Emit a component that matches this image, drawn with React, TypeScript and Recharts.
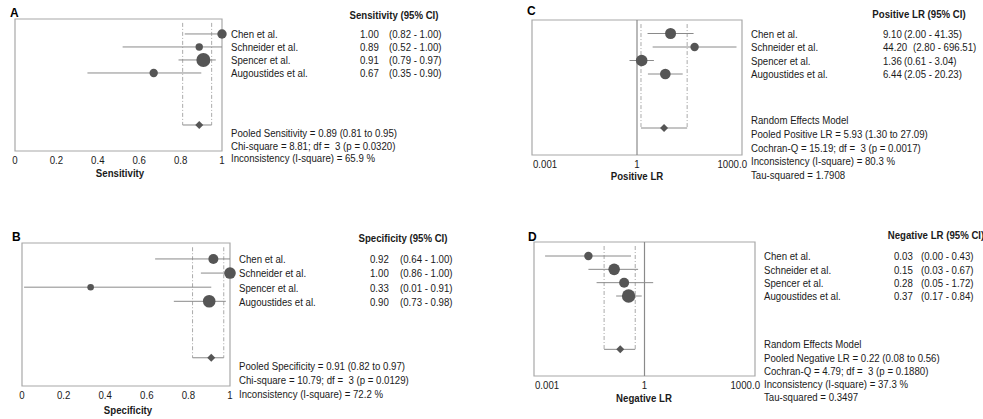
import { ScatterChart, Scatter, XAxis, YAxis, ErrorBar, ReferenceLine, ReferenceArea } from "recharts";

const studies = ["Chen et al.", "Schneider et al.", "Spencer et al.", "Augoustides et al."];
const rows = [1, 2, 3, 4];
const pooledRow = 8;

// A - sensitivity
const sensEst = [1.0, 0.89, 0.91, 0.67];
const sensLo = [0.82, 0.52, 0.79, 0.35];
const sensHi = [1.0, 1.0, 0.97, 0.9];
const sensSize = [4.7, 3.7, 7, 4.2];
const sensPooled = [0.89, 0.81, 0.95];
const sensStats = [
  "Pooled Sensitivity = 0.89 (0.81 to 0.95)",
  "Chi-square = 8.81; df =  3 (p = 0.0320)",
  "Inconsistency (I-square) = 65.9 %",
];

// B - specificity
const specEst = [0.92, 1.0, 0.33, 0.9];
const specLo = [0.64, 0.86, 0.01, 0.73];
const specHi = [1.0, 1.0, 0.91, 0.98];
const specSize = [5, 5.8, 3.3, 6.3];
const specPooled = [0.91, 0.82, 0.97];
const specStats = [
  "Pooled Specificity = 0.91 (0.82 to 0.97)",
  "Chi-square = 10.79; df =  3 (p = 0.0129)",
  "Inconsistency (I-square) = 72.2 %",
];

// C - positive LR
const plrEst = [9.1, 44.2, 1.36, 6.44];
const plrLo = [2.0, 2.8, 0.61, 2.05];
const plrHi = [41.35, 696.51, 3.04, 20.23];
const plrSize = [5.5, 4.2, 5.8, 5.3];
const plrPooled = [5.93, 1.3, 27.09];
const plrStats = [
  "Random Effects Model",
  "Pooled Positive LR = 5.93 (1.30 to 27.09)",
  "Cochran-Q = 15.19; df =  3 (p = 0.0017)",
  "Inconsistency (I-square) = 80.3 %",
  "Tau-squared = 1.7908",
];

// D - negative LR
const nlrEst = [0.03, 0.15, 0.28, 0.37];
const nlrLo = [0.002, 0.03, 0.05, 0.17];
const nlrHi = [0.43, 0.67, 1.72, 0.84];
const nlrSize = [4.2, 5.8, 5, 6.7];
const nlrPooled = [0.22, 0.08, 0.56];
const nlrStats = [
  "Random Effects Model",
  "Pooled Negative LR = 0.22 (0.08 to 0.56)",
  "Cochran-Q = 4.79; df =  3 (p = 0.1880)",
  "Inconsistency (I-square) = 37.3 %",
  "Tau-squared = 0.3497",
];

const linearTicks = [0, 0.2, 0.4, 0.6, 0.8, 1];
const logTicks = [0.001, 1, 1000];

// no narrow fonts installed, so squeeze Liberation Sans horizontally
const FONT = "'Liberation Sans', Arial, sans-serif";
const SQUEEZE = 0.84;
const TXT = "#1a1a1a";
const DOT = "#555";
const LINE = "#8a8a8a";
const BOX = "#a8a8a8";

function T({ x, y, children, anchor = "start", bold = false, size = 11.5 }: any) {
  return (
    <text
      transform={`translate(${x} ${y}) scale(${SQUEEZE} 1)`}
      textAnchor={anchor}
      dominantBaseline="central"
      fontFamily={FONT}
      fontSize={size}
      fontWeight={bold ? "bold" : "normal"}
      fill={TXT}
      style={{ whiteSpace: "pre" }}
    >
      {children}
    </text>
  );
}

function buildRows(est: number[], lo: number[], hi: number[], size: number[]) {
  return studies.map((name, i) => ({
    name,
    row: rows[i],
    est: est[i],
    size: size[i],
    err: [est[i] - lo[i], hi[i] - est[i]],
  }));
}

type PanelProps = {
  left: number;
  top: number;
  width: number;
  height: number;
  plotLeft: number;
  plotTop: number;
  plotW: number;
  plotH: number;
  yMin: number;
  est: number[];
  lo: number[];
  hi: number[];
  size: number[];
  pooled: number[];
  log: boolean;
  cols: number[];
};

function Panel(p: PanelProps) {
  const data = buildRows(p.est, p.lo, p.hi, p.size);
  const [pv, plo, phi] = p.pooled;
  const pooledData = [{ row: pooledRow, est: pv, err: [pv - plo, phi - pv] }];
  const domain = p.log ? [0.001, 1000] : [0, 1];
  const ticks = p.log ? logTicks : linearTicks;
  const axisW = p.width - p.plotLeft - p.plotW;
  const bottom = p.height - p.plotTop - p.plotH;

  const xTick = (t: any) => {
    const v = t.payload.value;
    let anchor = "middle";
    let label = String(v);
    let x = t.x;
    if (p.log) {
      if (v === 1000) {
        label = "1000.0";
        anchor = "end";
        x = t.x + 5;
      } else if (v === 0.001) {
        anchor = "start";
        x = t.x + 1;
      }
    }
    return <T x={x} y={t.y + 8.5} anchor={anchor}>{label}</T>;
  };

  const yTick = (t: any) => {
    const i = rows.indexOf(t.payload.value);
    if (i < 0) return <g />;
    const val = p.est[i].toFixed(2);
    const ci = `(${p.lo[i].toFixed(2)} - ${p.hi[i].toFixed(2)})`;
    const ciShift = val.length > 4 ? 9 : 0;
    return (
      <g>
        <T x={t.x + p.cols[0]} y={t.y}>{studies[i]}</T>
        <T x={t.x + p.cols[1]} y={t.y}>{val}</T>
        <T x={t.x + p.cols[2] + ciShift} y={t.y}>{ci}</T>
      </g>
    );
  };

  return (
    <div style={{ position: "absolute", left: p.left, top: p.top }}>
      <ScatterChart
        width={p.width}
        height={p.height}
        margin={{ top: p.plotTop, left: p.plotLeft, right: 0, bottom: bottom - 30 }}
      >
        <XAxis
          type="number"
          dataKey="est"
          domain={domain}
          scale={p.log ? "log" : "auto"}
          ticks={ticks}
          interval={0}
          axisLine={false}
          tickLine={false}
          tickSize={0}
          tickMargin={0}
          height={30}
          tick={xTick}
        />
        <YAxis
          type="number"
          dataKey="row"
          domain={[p.yMin, 10]}
          reversed
          orientation="right"
          width={axisW}
          ticks={rows}
          interval={0}
          axisLine={false}
          tickLine={false}
          tickSize={0}
          tickMargin={0}
          tick={yTick}
        />
        <ReferenceArea x1={domain[0]} x2={domain[1]} y1={p.yMin} y2={10} fill="none" stroke={BOX} strokeWidth={1.2} />
        {p.log && <ReferenceLine x={1} stroke={LINE} strokeWidth={1.2} />}
        <ReferenceLine segment={[{ x: plo, y: p.yMin + 0.3 }, { x: plo, y: pooledRow }]} stroke="#aaa" strokeDasharray="4 2 1 2" />
        <ReferenceLine segment={[{ x: phi, y: p.yMin + 0.3 }, { x: phi, y: pooledRow }]} stroke="#aaa" strokeDasharray="4 2 1 2" />
        <Scatter
          data={data}
          isAnimationActive={false}
          shape={(s: any) => <circle cx={s.cx} cy={s.cy} r={s.payload.size} fill={DOT} />}
        >
          <ErrorBar dataKey="err" direction="x" width={0} stroke={LINE} strokeWidth={1} />
        </Scatter>
        <Scatter
          data={pooledData}
          isAnimationActive={false}
          shape={(s: any) => (
            <polygon
              points={`${s.cx},${s.cy - 4} ${s.cx + 4},${s.cy} ${s.cx},${s.cy + 4} ${s.cx - 4},${s.cy}`}
              fill={DOT}
            />
          )}
        >
          <ErrorBar dataKey="err" direction="x" width={0} stroke={LINE} strokeWidth={1} />
        </Scatter>
      </ScatterChart>
    </div>
  );
}

function Lines({ x, y, step, lines }: { x: number; y: number; step: number; lines: string[] }) {
  return (
    <>
      {lines.map((l, i) => (
        <T key={i} x={x} y={y + i * step}>{l}</T>
      ))}
    </>
  );
}

export default function App() {
  return (
    <div style={{ position: "absolute", left: 0, top: 0, width: 983, height: 419, background: "#fff", overflow: "hidden" }}>
      <Panel left={0} top={0} width={490} height={200} plotLeft={15} plotTop={19} plotW={207} plotH={132} yMin={-0.15}
        est={sensEst} lo={sensLo} hi={sensHi} size={sensSize} pooled={sensPooled} log={false} cols={[9, 138, 167]} />
      <Panel left={0} top={210} width={490} height={209} plotLeft={22} plotTop={33} plotW={208} plotH={143} yMin={-0.13}
        est={specEst} lo={specLo} hi={specHi} size={specSize} pooled={specPooled} log={false} cols={[9, 140, 170]} />
      <Panel left={490} top={0} width={493} height={200} plotLeft={42} plotTop={20} plotW={210} plotH={135} yMin={0}
        est={plrEst} lo={plrLo} hi={plrHi} size={plrSize} pooled={plrPooled} log={true} cols={[9, 141, 162]} />
      <Panel left={490} top={210} width={493} height={209} plotLeft={44} plotTop={32} plotW={221} plotH={134} yMin={-0.05}
        est={nlrEst} lo={nlrLo} hi={nlrHi} size={nlrSize} pooled={nlrPooled} log={true} cols={[9, 139, 166]} />
      <svg width={983} height={419} style={{ position: "absolute", left: 0, top: 0, pointerEvents: "none" }}>
        <text x={10} y={13} dominantBaseline="central" fontFamily={FONT} fontWeight="bold" fontSize={12}>A</text>
        <text x={12} y={237} dominantBaseline="central" fontFamily={FONT} fontWeight="bold" fontSize={12}>B</text>
        <text x={527} y={11} dominantBaseline="central" fontFamily={FONT} fontWeight="bold" fontSize={12}>C</text>
        <text x={528} y={237} dominantBaseline="central" fontFamily={FONT} fontWeight="bold" fontSize={12}>D</text>
        <T x={394} y={15} anchor="middle" bold>Sensitivity (95% CI)</T>
        <T x={403} y={238} anchor="middle" bold>Specificity (95% CI)</T>
        <T x={919} y={14} anchor="middle" bold>Positive LR (95% CI)</T>
        <T x={936} y={235} anchor="middle" bold>Negative LR (95% CI)</T>
        <T x={120} y={173} anchor="middle" bold>Sensitivity</T>
        <T x={128} y={410} anchor="middle" bold>Specificity</T>
        <T x={637} y={176} anchor="middle" bold>Positive LR</T>
        <T x={644} y={398} anchor="middle" bold>Negative LR</T>
        <Lines x={231} y={133} step={12.5} lines={sensStats} />
        <Lines x={239} y={366} step={14} lines={specStats} />
        <Lines x={751} y={120} step={13.6} lines={plrStats} />
        <Lines x={764} y={344} step={13.2} lines={nlrStats} />
      </svg>
    </div>
  );
}
